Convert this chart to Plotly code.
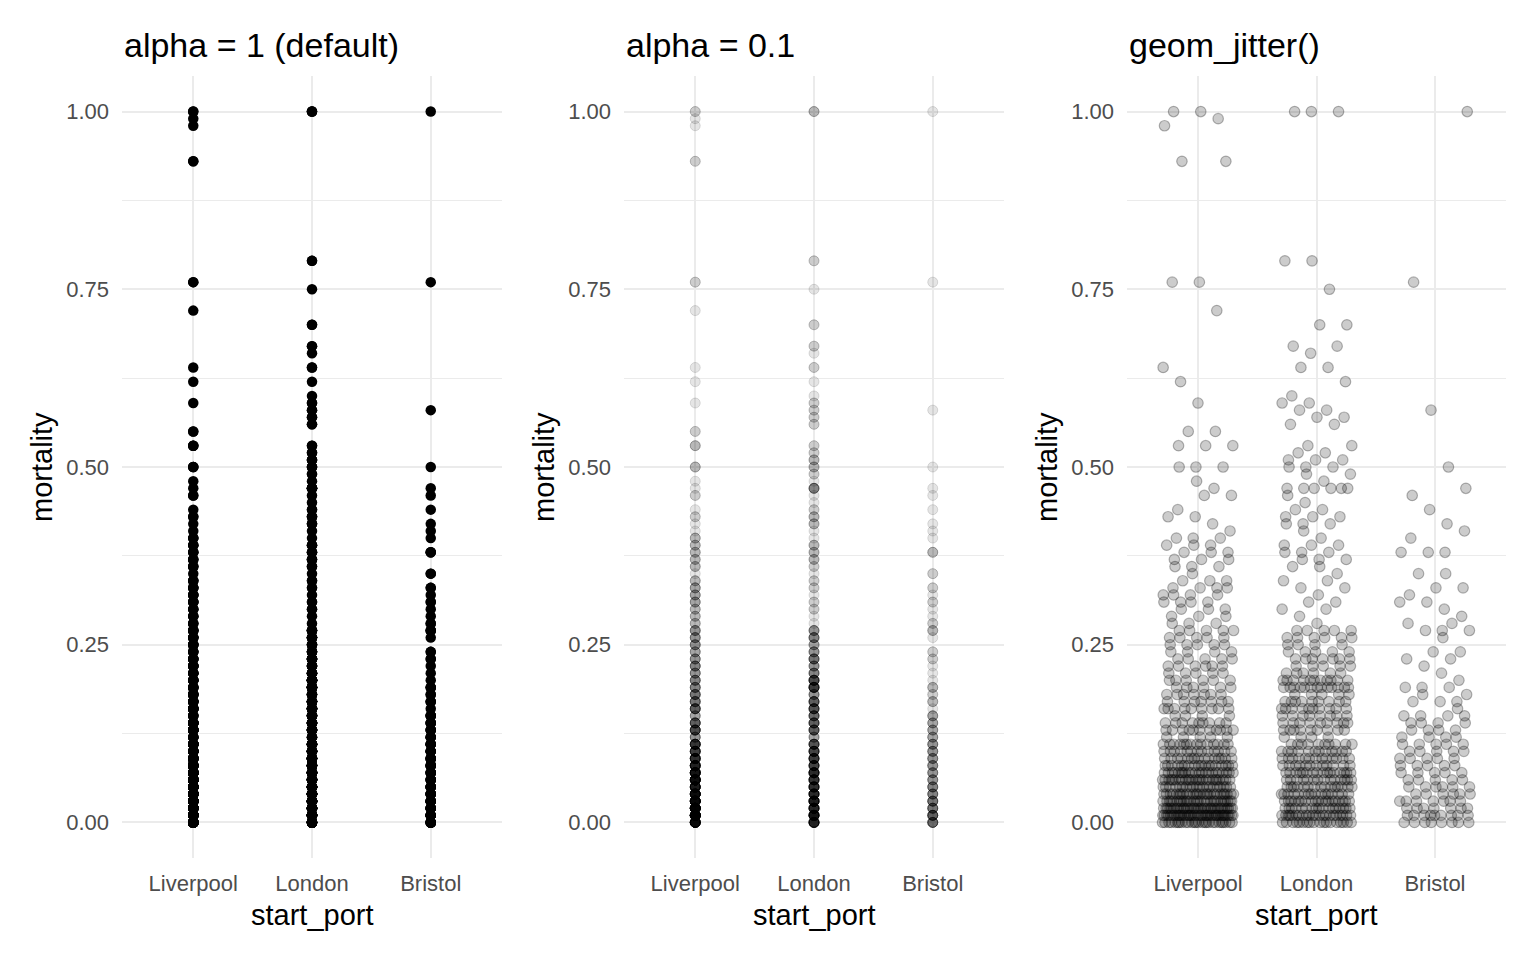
import numpy as np
import plotly.graph_objects as go

ports = ["Liverpool", "London", "Bristol"]
panel_titles = ["alpha = 1 (default)", "alpha = 0.1", "geom_jitter()"]

# mortality levels and how many voyages sit on each level, per start port
liverpool_mortality = [0.00, 0.01, 0.02, 0.03, 0.04, 0.05, 0.06, 0.07, 0.08, 0.09,
                       0.10, 0.11, 0.12, 0.13, 0.14, 0.15, 0.16, 0.17, 0.18, 0.19,
                       0.20, 0.21, 0.22, 0.23, 0.24, 0.25, 0.26, 0.27, 0.28, 0.29,
                       0.30, 0.31, 0.32, 0.33, 0.34, 0.35, 0.36, 0.37, 0.38, 0.39,
                       0.40, 0.41, 0.42, 0.43, 0.44, 0.46, 0.47, 0.48, 0.50, 0.53,
                       0.55, 0.59, 0.62, 0.64, 0.72, 0.76, 0.93, 0.98, 0.99, 1.00]
liverpool_counts = [26, 40, 34, 28, 26, 20, 25, 22, 18, 15,
                    13, 14, 5, 11, 9, 4, 9, 7, 7, 6,
                    6, 5, 6, 5, 4, 5, 5, 5, 3, 3,
                    3, 4, 4, 4, 3, 1, 3, 3, 3, 3,
                    3, 1, 1, 2, 1, 2, 1, 1, 3, 3,
                    2, 1, 1, 1, 1, 2, 2, 1, 1, 2]

london_mortality = [0.00, 0.01, 0.02, 0.03, 0.04, 0.05, 0.06, 0.07, 0.08, 0.09,
                    0.10, 0.11, 0.12, 0.13, 0.14, 0.15, 0.16, 0.17, 0.18, 0.19,
                    0.20, 0.21, 0.22, 0.23, 0.24, 0.25, 0.26, 0.27, 0.28, 0.29,
                    0.30, 0.31, 0.32, 0.33, 0.34, 0.35, 0.36, 0.37, 0.38, 0.39,
                    0.40, 0.41, 0.42, 0.43, 0.44, 0.45, 0.46, 0.47, 0.48, 0.49,
                    0.50, 0.51, 0.52, 0.53, 0.56, 0.57, 0.58, 0.59, 0.60, 0.62,
                    0.64, 0.66, 0.67, 0.70, 0.75, 0.79, 1.00]
london_counts = [18, 22, 17, 19, 16, 15, 14, 16, 12, 13,
                 12, 10, 4, 9, 9, 8, 10, 9, 5, 13,
                 11, 6, 5, 7, 5, 4, 6, 5, 1, 1,
                 2, 2, 1, 2, 2, 1, 2, 3, 3, 3,
                 1, 1, 3, 3, 2, 1, 1, 6, 1, 2,
                 3, 3, 2, 2, 2, 2, 2, 2, 1, 1,
                 2, 1, 2, 2, 1, 2, 3]

bristol_mortality = [0.00, 0.01, 0.02, 0.03, 0.04, 0.05, 0.06, 0.07, 0.08, 0.09,
                     0.10, 0.11, 0.12, 0.13, 0.14, 0.15, 0.16, 0.17, 0.18, 0.19,
                     0.20, 0.21, 0.22, 0.23, 0.24, 0.26, 0.27, 0.28, 0.29, 0.30,
                     0.31, 0.32, 0.33, 0.35, 0.38, 0.40, 0.41, 0.42, 0.44, 0.46,
                     0.47, 0.50, 0.58, 0.76, 1.00]
bristol_counts = [8, 9, 7, 7, 6, 6, 5, 5, 5, 5,
                  5, 5, 4, 4, 4, 4, 1, 3, 2, 3,
                  1, 1, 1, 2, 2, 1, 3, 2, 1, 1,
                  2, 1, 2, 2, 3, 1, 1, 1, 1, 1,
                  1, 1, 1, 1, 1]

y_ticks = [0.0, 0.25, 0.5, 0.75, 1.0]
y_ticktext = ["0.00", "0.25", "0.50", "0.75", "1.00"]

FONT = "Liberation Sans, Arial, sans-serif"
GRID = "#EBEBEB"

levels = [liverpool_mortality, london_mortality, bristol_mortality]
counts = [liverpool_counts, london_counts, bristol_counts]

# expand level/count pairs into one row per voyage; jitter offsets are a
# deterministic low-discrepancy spread of +-0.3 (no random numbers)
golden = 0.6180339887
plastic = 0.7548776662
port_idx, mortality, jitter = [], [], []
for i, (lv, ct) in enumerate(zip(levels, counts)):
    for j, (v, n) in enumerate(zip(lv, ct)):
        phase = (j * plastic + i * 0.37) % 1.0
        for k in range(n):
            port_idx.append(i)
            mortality.append(v)
            jitter.append(((phase + k * golden) % 1.0 - 0.5) * 0.6)
port_idx = np.array(port_idx, dtype=float)
mortality = np.array(mortality)
port_jit = port_idx + np.array(jitter)

fig = go.Figure()

fig.add_trace(go.Scatter(
    x=port_idx, y=mortality, mode="markers", xaxis="x", yaxis="y",
    marker=dict(size=10.5, color="black", line=dict(width=0)),
    showlegend=False, hoverinfo="skip"))

fig.add_trace(go.Scatter(
    x=port_idx, y=mortality, mode="markers", xaxis="x2", yaxis="y2",
    marker=dict(size=10, color="rgba(0,0,0,0.1)",
                line=dict(width=1, color="rgba(0,0,0,0.12)")),
    showlegend=False, hoverinfo="skip"))

fig.add_trace(go.Scatter(
    x=port_jit, y=mortality, mode="markers", xaxis="x3", yaxis="y3",
    marker=dict(size=10.5, color="rgba(0,0,0,0.2)",
                line=dict(width=1.2, color="rgba(0,0,0,0.28)")),
    showlegend=False, hoverinfo="skip"))

# page body has an 8px margin, so pixel positions below are shifted by 8
OFF = 8
W, H = 1536 - 2 * OFF, 960 - 2 * OFF


def px(x):
    return (x - OFF) / W


def py(y):
    return 1 - (y - OFF) / H


x_domains = [[px(122), px(502)], [px(624), px(1004)], [px(1127), px(1506)]]
y_domain = [py(858), py(76)]

layout = dict(
    width=W, height=H,
    margin=dict(l=0, r=0, t=0, b=0),
    paper_bgcolor="white", plot_bgcolor="white",
    font=dict(family=FONT, color="black"),
    showlegend=False,
)

annotations = []
for k in range(3):
    sx = "" if k == 0 else str(k + 1)
    layout["xaxis" + sx] = dict(
        domain=x_domains[k], anchor="y" + sx,
        range=[-0.6, 2.6], tickvals=[0, 1, 2], ticktext=ports,
        showgrid=True, gridcolor=GRID, gridwidth=1.6, zeroline=False,
        showline=False, ticks="", ticklabelstandoff=10,
        tickfont=dict(size=22, color="#4D4D4D", family=FONT),
    )
    layout["yaxis" + sx] = dict(
        domain=y_domain, anchor="x" + sx,
        range=[-0.05, 1.05], tickvals=y_ticks, ticktext=y_ticktext,
        showgrid=True, gridcolor=GRID, gridwidth=1.6, zeroline=False,
        showline=False, ticks="", ticklabelstandoff=12,
        tickfont=dict(size=22, color="#4D4D4D", family=FONT),
        minor=dict(tickvals=[0.125, 0.375, 0.625, 0.875], showgrid=True,
                   gridcolor=GRID, gridwidth=0.8),
    )
    x0, x1 = x_domains[k]
    annotations.append(dict(
        text=panel_titles[k], xref="paper", yref="paper",
        x=x0, y=py(45), xanchor="left", yanchor="middle",
        showarrow=False, font=dict(size=34, color="black", family=FONT)))
    annotations.append(dict(
        text="start_port", xref="paper", yref="paper",
        x=(x0 + x1) / 2, y=py(915), xanchor="center", yanchor="middle",
        showarrow=False, font=dict(size=29, color="black", family=FONT)))
    annotations.append(dict(
        text="mortality", xref="paper", yref="paper", textangle=-90,
        x=x0 - 80 / W, y=py(467), xanchor="center", yanchor="middle",
        showarrow=False, font=dict(size=29, color="black", family=FONT)))

layout["annotations"] = annotations
fig.update_layout(**layout)

fig.write_html("out.html")
